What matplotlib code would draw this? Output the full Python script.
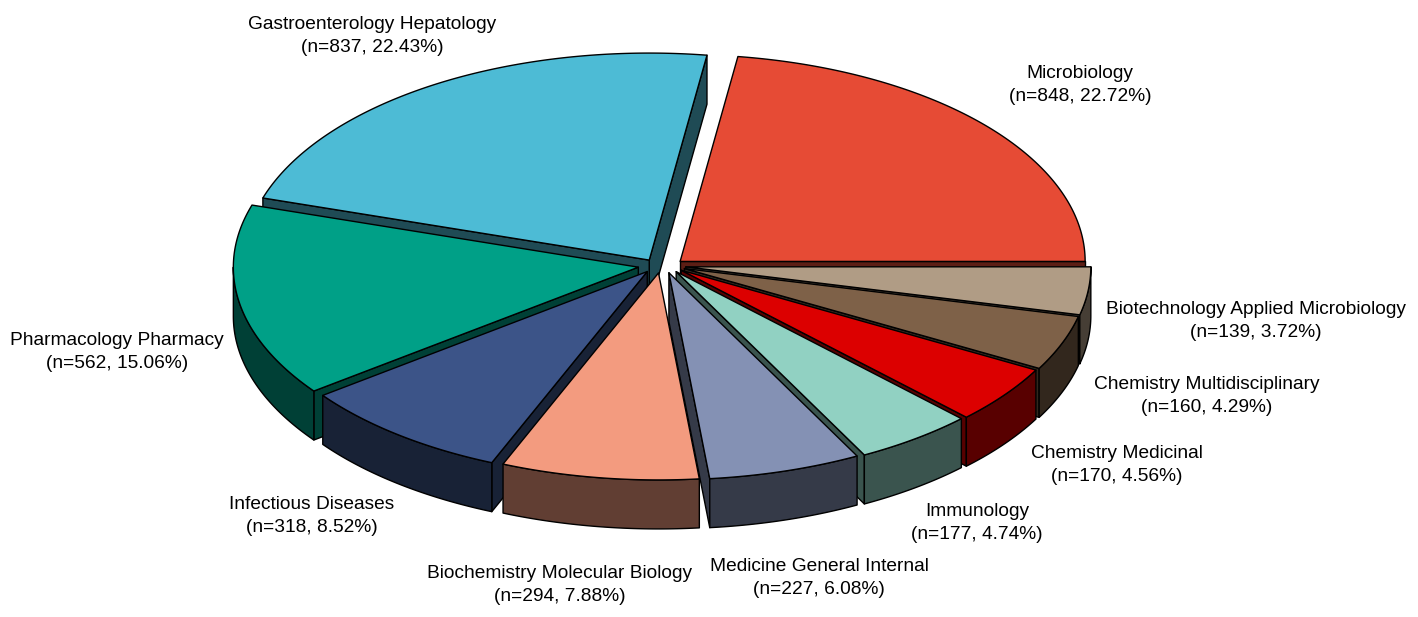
import matplotlib.pyplot as plt
import numpy as np
from matplotlib.patches import Polygon
from matplotlib.colors import to_rgb

# data
categories = ['Microbiology', 'Gastroenterology Hepatology', 'Pharmacology Pharmacy',
              'Infectious Diseases', 'Biochemistry Molecular Biology',
              'Medicine General Internal', 'Immunology', 'Chemistry Medicinal',
              'Chemistry Multidisciplinary', 'Biotechnology Applied Microbiology']
counts = [848, 837, 562, 318, 294, 227, 177, 170, 160, 139]
colors = ['#E64B35', '#4DBBD5', '#00A087', '#3C5488', '#F39B7F',
          '#8491B4', '#91D1C2', '#DC0000', '#7E6148', '#B09C85']

# label centres (pixels)
label_xy = [(1080, 85), (372, 36), (117, 352), (312, 516), (560, 585),
            (819, 578), (977, 523), (1117, 465), (1207, 396), (1256, 321)]

# pie geometry in pixel units
cx, cy = 662, 266
rx, ry = 405, 207
depth = 49
ex, ey = 24, 7  # explode offsets

W, H = 1418, 617
fig = plt.figure(figsize=(W / 100, H / 100), dpi=100)
ax = fig.add_axes([0, 0, 1, 1])
ax.set_xlim(0, W)
ax.set_ylim(H, 0)
ax.axis('off')

total = sum(counts)
fracs = np.array(counts) / total
bounds = np.concatenate([[0], np.cumsum(fracs) * 360])


def arc(a1, a2, ox, oy, dz=0):
    n = max(int((a2 - a1) * 2), 2)
    t = np.radians(np.linspace(a1, a2, n))
    return np.column_stack([cx + ox + rx * np.cos(t), cy + oy - ry * np.sin(t) + dz])


def darker(c, f=0.4):
    return tuple(v * f for v in to_rgb(c))


wedges = []
for i in range(len(counts)):
    a1, a2 = bounds[i], bounds[i + 1]
    m = np.radians((a1 + a2) / 2)
    ox, oy = ex * np.cos(m), -ey * np.sin(m)
    wedges.append((a1, a2, ox, oy, np.sin(m), colors[i]))

ekw = dict(edgecolor='black', linewidth=1.0, joinstyle='round')

# side walls, back to front
for a1, a2, ox, oy, s, col in sorted(wedges, key=lambda w: -w[4]):
    wc = darker(col)
    apex = np.array([cx + ox, cy + oy])
    for a, vis in ((a1, np.cos(np.radians(a1)) > 0), (a2, np.cos(np.radians(a2)) < 0)):
        if vis:
            p = arc(a, a, ox, oy)[0]
            quad = [apex, p, p + [0, depth], apex + [0, depth]]
            ax.add_patch(Polygon(quad, closed=True, facecolor=wc, **ekw))
    lo, hi = max(a1, 180), min(a2, 360)
    if hi > lo:
        top = arc(lo, hi, ox, oy)
        bot = arc(lo, hi, ox, oy, depth)[::-1]
        ax.add_patch(Polygon(np.vstack([top, bot]), closed=True, facecolor=wc, **ekw))

# top faces
for a1, a2, ox, oy, s, col in wedges:
    pts = np.vstack([[cx + ox, cy + oy], arc(a1, a2, ox, oy)])
    ax.add_patch(Polygon(pts, closed=True, facecolor=col, **ekw))

for name, n, f, (x, y) in zip(categories, counts, fracs, label_xy):
    ax.text(x, y, f'{name}\n(n={n}, {f * 100:.2f}%)', ha='center', va='center',
            fontsize=13.8, family='Liberation Sans', linespacing=1.42)

fig.savefig('out.png', dpi=100)
